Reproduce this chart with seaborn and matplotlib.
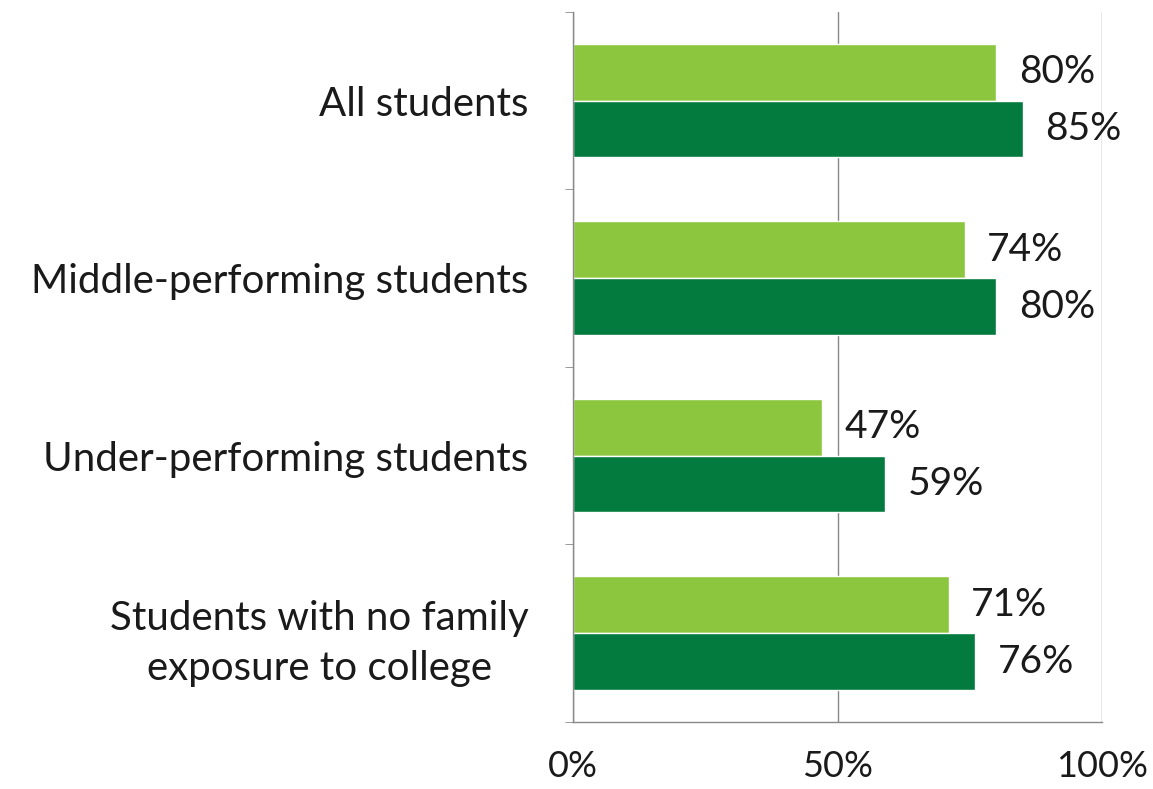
import matplotlib
matplotlib.use("Agg")
import matplotlib.pyplot as plt
import seaborn as sns
import pandas as pd
import numpy as np
from matplotlib.ticker import FixedLocator, FuncFormatter

categories = ["All students", "Middle-performing students", "Under-performing students",
              "Students with no family\nexposure to college"]
series_names = ["Series 1", "Series 2"]
series1 = [80, 74, 47, 71]
series2 = [85, 80, 59, 76]
x_ticks = [0, 50, 100]

rows = []
for c, a, b in zip(categories, series1, series2):
    rows.append({"cat": c, "series": series_names[0], "val": a})
    rows.append({"cat": c, "series": series_names[1], "val": b})
df = pd.DataFrame(rows)

sns.set_style("white")
plt.rcParams['font.family'] = ['Lato', 'DejaVu Sans']

fig = plt.figure(figsize=(11.53, 7.89), dpi=100)
ax = fig.add_axes([0.497, 0.085, 0.459, 0.9])

sns.barplot(data=df, y="cat", x="val", hue="series", orient="h",
            palette=["#8cc63e", "#037a3e"], width=0.64, ax=ax, legend=False,
            saturation=1)

for cont in ax.containers:
    for bar in cont:
        w = bar.get_width()
        y = bar.get_y() + bar.get_height() / 2
        ax.text(w + 4.2, y, f"{w:.0f}%", va="center", ha="left", fontsize=28, color="#1a1a1a")

ax.set_xlim(0, 100)
ax.set_ylim(len(categories) - 0.5, -0.5)
ax.set_xticks(x_ticks)
ax.xaxis.set_major_formatter(FuncFormatter(lambda v, p: f"{v:.0f}%"))
ax.tick_params(axis="x", labelsize=26, length=6, color="#888888", pad=14, labelcolor="#1a1a1a")
ax.set_yticks(range(len(categories)))
ax.set_yticklabels(categories, fontsize=29, color="#1a1a1a", ha="right",
                   multialignment="center", linespacing=1.45)
ax.tick_params(axis="y", length=0, pad=32)
ax.yaxis.set_minor_locator(FixedLocator(np.arange(-0.5, len(categories), 1.0)))
ax.tick_params(axis="y", which="minor", length=6, color="#888888", left=True)
ax.set_xlabel("")
ax.set_ylabel("")
ax.grid(axis="x", color="#888888", linewidth=1)
ax.set_axisbelow(True)
for s in ["top", "right"]:
    ax.spines[s].set_visible(False)
for s in ["left", "bottom"]:
    ax.spines[s].set_color("#888888")
    ax.spines[s].set_linewidth(1)

fig.savefig("out.png", dpi=100)
